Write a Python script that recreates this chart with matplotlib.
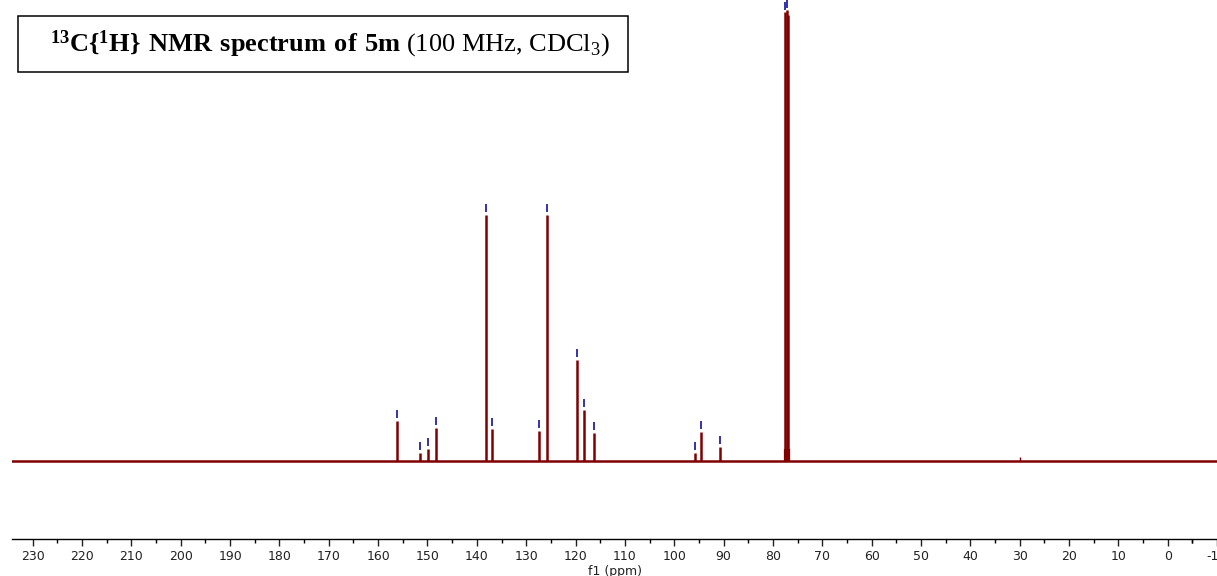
"""
13C{1H} NMR spectrum of 5m, redrawn from the peak list.
Peaks drawn as sticks on a flat baseline, with peak-pick markers above.
"""

import matplotlib
matplotlib.use('Agg')
import matplotlib.pyplot as plt
from matplotlib.patches import Rectangle

# Peak list (ppm, intensity in arbitrary units)
peak_ppm = [156.2, 151.6, 149.8, 148.3, 138.2, 137.0, 127.5, 125.7,
            119.8, 118.2, 116.2, 95.8, 94.6, 90.8]
peak_int = [40, 8, 12, 33, 246, 32, 30, 246,
            101, 51, 28, 8, 29, 14]

# Solvent (CDCl3 triplet)
solv_ppm = [77.48, 77.16, 76.84]
solv_int = [449, 451, 446]

# Small impurity (grease)
imp_ppm = [29.9]
imp_int = [4]

# Axis
x_left = 234.2
x_right = -8.9
major_ticks = list(range(230, -1, -10))

plt.rcParams['mathtext.fontset'] = 'custom'
plt.rcParams['mathtext.rm'] = 'Liberation Serif'
plt.rcParams['mathtext.bf'] = 'Liberation Serif:bold'

fig = plt.figure(figsize=(12.17, 5.76), dpi=100)
ax = fig.add_axes([12 / 1217, 37 / 576, 1 - 12 / 1217, 1 - 37 / 576])

line_col = '#800000'
mark_col = '#3333aa'

# baseline
ax.axhline(0, color=line_col, lw=1.8, zorder=2)

# peaks
ax.vlines(peak_ppm, 0, peak_int, color=line_col, lw=1.8, zorder=3)
ax.vlines(solv_ppm, 0, solv_int, color=line_col, lw=1.8, zorder=3)
ax.vlines([77.16], 0, 12, color=line_col, lw=4.5, zorder=3)
ax.vlines(imp_ppm, 0, imp_int, color=line_col, lw=1.0, zorder=3)

# peak-pick markers
ax.vlines(peak_ppm, [h + 3 for h in peak_int], [h + 11 for h in peak_int],
          color=mark_col, lw=1.4, zorder=4)
ax.vlines(solv_ppm[:2], [h + 2 for h in solv_int[:2]], [h + 10 for h in solv_int[:2]],
          color=mark_col, lw=1.4, zorder=4)

ax.set_xlim(x_left, x_right)
ax.set_ylim(-78, 461)

for s in ['top', 'left', 'right']:
    ax.spines[s].set_visible(False)
ax.spines['bottom'].set_linewidth(1.0)
ax.set_yticks([])
ax.set_xticks(major_ticks + [-10])
ax.set_xticklabels([str(t) for t in major_ticks] + ['-10'])
ax.set_xticks([t - 5 for t in major_ticks] + [-5], minor=True)
ax.tick_params(axis='x', which='major', direction='out', length=5, width=1,
               labelsize=9, pad=3, colors='#222222')
ax.tick_params(axis='x', which='minor', direction='out', length=3, width=1)
ax.set_xlabel('f1 (ppm)', fontsize=9, labelpad=1, color='#222222')

# title box
fig.add_artist(Rectangle((18 / 1217, (576 - 72) / 576), 610 / 1217, 56 / 576,
                         transform=fig.transFigure, fill=False,
                         edgecolor='black', lw=1.1))
fig.text(330 / 1217, (576 - 44) / 576,
         r'$\mathbf{^{13}C\{^{1}H\}\ NMR\ spectrum\ of\ 5m}$ (100 MHz, CDCl$_3$)',
         family='Liberation Serif', fontsize=19, ha='center', va='center')

fig.savefig('out.png', dpi=100)
